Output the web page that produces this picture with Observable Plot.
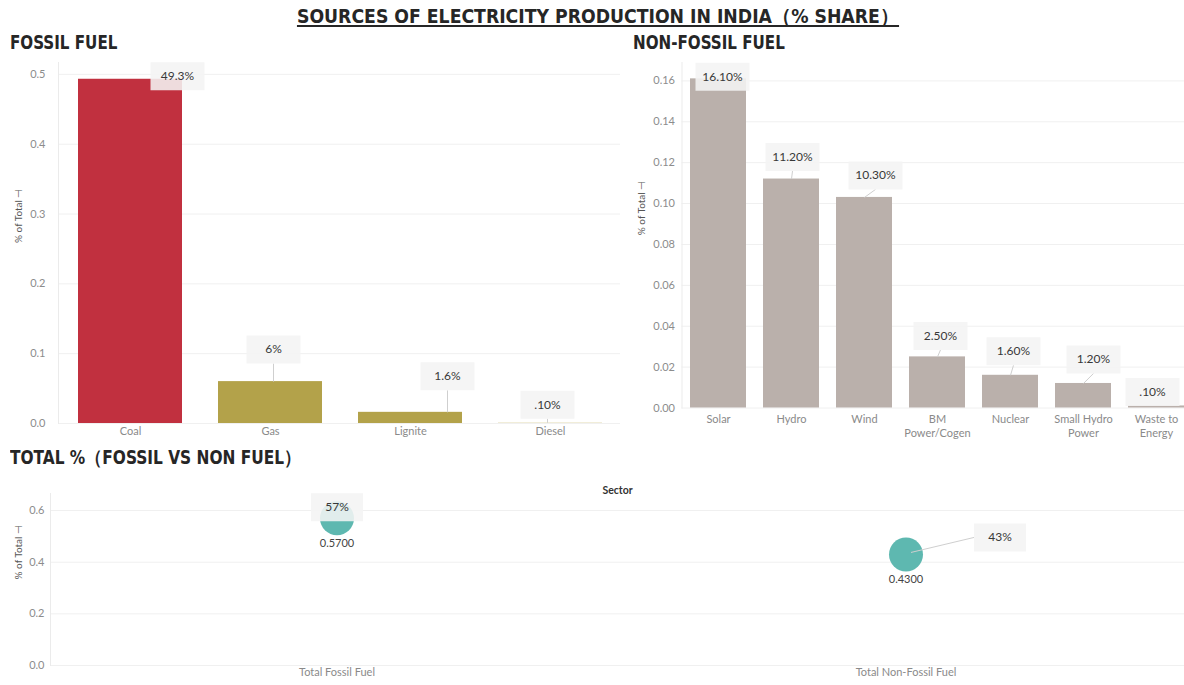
<!DOCTYPE html>
<html><head><meta charset="utf-8">
<script src="https://cdn.jsdelivr.net/npm/d3@7"></script>
<script src="https://cdn.jsdelivr.net/npm/@observablehq/plot@0.6"></script>
<style>
html,body{margin:0;padding:0;background:#fff;overflow:hidden;width:1184px;height:685px;}
#wrap{position:relative;width:1184px;height:685px;font-family:Lato,"Open Sans",sans-serif;}
.h{position:absolute;font-family:"Liberation Sans Narrow","DejaVu Sans Condensed",sans-serif;font-weight:bold;color:#262626;white-space:nowrap;line-height:1;transform-origin:0 50%;}
#title{left:0;width:1196px;text-align:center;top:6px;font-size:20px;text-decoration:underline;text-underline-offset:2px;transform:scaleX(0.96);transform-origin:50% 50%;}
#hFossil{left:10px;top:33px;font-size:19px;transform:scaleX(0.885);}
#hNon{left:633px;top:33px;font-size:19px;transform:scaleX(0.885);}
#hTotal{left:10px;top:448px;font-size:19px;transform:scaleX(0.9);}
.panel{position:absolute;}
.panel svg{overflow:hidden;}
</style></head>
<body><div id="wrap">
<div class="h" id="title">SOURCES OF ELECTRICITY PRODUCTION IN INDIA（% SHARE）</div>
<div class="h" id="hFossil">FOSSIL FUEL</div>
<div class="h" id="hNon">NON-FOSSIL FUEL</div>
<div class="h" id="hTotal">TOTAL %（FOSSIL VS NON FUEL）</div>
<div class="panel" id="pFossil" style="left:0;top:50px"></div>
<div class="panel" id="pNon" style="left:620px;top:50px"></div>
<div class="panel" id="pTotal" style="left:0;top:478px"></div>
</div>
<script>
// ---------- data ----------
const fossilCategories = ["Coal", "Gas", "Lignite", "Diesel"];
const fossilShare = [0.493, 0.06, 0.016, 0.001];
const fossilLabels = ["49.3%", "6%", "1.6%", ".10%"];
const fossilTicks = [0, 0.1, 0.2, 0.3, 0.4, 0.5];

const nonFossilCategories = ["Solar", "Hydro", "Wind", "BM Power/Cogen", "Nuclear", "Small Hydro Power", "Waste to Energy"];
const nonFossilTickLabels = ["Solar", "Hydro", "Wind", "BM\nPower/Cogen", "Nuclear", "Small Hydro\nPower", "Waste to\nEnergy"];
const nonFossilShare = [0.161, 0.112, 0.103, 0.025, 0.016, 0.012, 0.001];
const nonFossilLabels = ["16.10%", "11.20%", "10.30%", "2.50%", "1.60%", "1.20%", ".10%"];
const nonFossilTicks = [0, 0.02, 0.04, 0.06, 0.08, 0.10, 0.12, 0.14, 0.16];

const sectorCategories = ["Total Fossil Fuel", "Total Non-Fossil Fuel"];
const sectorShare = [0.57, 0.43];
const sectorLabels = ["57%", "43%"];
const sectorValueText = ["0.5700", "0.4300"];
const sectorTicks = [0, 0.2, 0.4, 0.6];

const yTitle = "% of Total \u22A3";

// ---------- style ----------
const fossilColors = ["#c1303f", "#b3a24a", "#b3a24a", "#ebe6c9"];
const nonFossilColor = "#bab0ab";
const sectorColor = "#5eb8b0";
const gridColor = "#f0f0f0";
const tickColor = "#8c8c8c";
const catColor = "#8a8a8a";
const labelColor = "#383838";
// annotation nudges (pixels) for the label callouts
const fossilNudge = [[47, -3], [3, -32], [37, -36], [-3, -18]];
const nonFossilNudge = [[4, -2], [1, -22], [11, -22], [3, -21], [3, -24], [10, -24], [-4, -14]];
const sectorNudge = [[0, -11], [94, -17]];

const baseStyle = {fontFamily: "Lato, 'Open Sans', sans-serif", fontSize: "11px", color: "#333", background: "transparent", overflow: "hidden"};

function boxSymbol(w, h) { return {draw(ctx) { ctx.rect(-w / 2, -h / 2, w, h); }}; }
function segSymbol(x1, y1, x2, y2) { return {draw(ctx) { ctx.moveTo(x1, y1); ctx.lineTo(x2, y2); }}; }

function callouts(rows, nudges, {boxW = 54, boxH = 28, barW = 50, side = false, fromCenter = false} = {}) {
  const marks = [];
  rows.forEach((r, i) => {
    const [ndx, ndy] = nudges[i];
    const d = [r];
    const hw = boxW / 2, hh = boxH / 2;
    let seg = null;
    if (side && Math.abs(ndx) > hw) seg = [5, -2, ndx - Math.sign(ndx) * hw, ndy];
    else if (ndy + hh < -2) {
      const sx = fromCenter ? 0 : Math.max(-barW / 2 + 3, Math.min(barW / 2 - 3, ndx));
      seg = [sx, 0, ndx, ndy + hh];
    }
    if (seg) marks.push(Plot.dot(d, {x: "c", y: "v", symbol: segSymbol(...seg), fill: "none", stroke: "#cfcfcf", strokeWidth: 1}));
    marks.push(Plot.dot(d, {x: "c", y: "v", symbol: boxSymbol(boxW, boxH), fill: "#f4f4f4", fillOpacity: 0.88, stroke: "none", dx: ndx, dy: ndy}));
    marks.push(Plot.text(d, {x: "c", y: "v", text: "t", dx: ndx, dy: ndy, fill: labelColor, fontSize: 12}));
  });
  return marks;
}

function yAxisMarks(ticks, fmt, dx, labelDx) {
  return [
    Plot.ruleY(ticks, {y: d => d, stroke: gridColor}),
    Plot.frame({anchor: "left", stroke: "#ebebeb"}),
    Plot.text(ticks, {y: d => d, text: d => d3.format(fmt)(d), frameAnchor: "left", textAnchor: "end", dx: dx, fill: tickColor, fontSize: 11}),
    Plot.text([yTitle], {frameAnchor: "left", dx: labelDx, rotate: -90, fill: "#555", fontSize: 10})
  ];
}

// ---------- fossil ----------
const fossilRows = fossilCategories.map((c, i) => ({c, v: fossilShare[i], t: fossilLabels[i]}));
document.getElementById("pFossil").append(Plot.plot({
  width: 620, height: 393, marginLeft: 58, marginRight: 0, marginTop: 12, marginBottom: 20,
  style: baseStyle,
  x: {type: "band", domain: fossilCategories, range: [58, 622], paddingInner: 0.255, paddingOuter: 0.128, axis: null},
  y: {domain: [0, 0.517], axis: null},
  color: {domain: fossilCategories, range: fossilColors},
  marks: [
    ...yAxisMarks(fossilTicks, ".1f", -13, -40),
    Plot.barY(fossilRows, {x: "c", y: "v", fill: "c"}),
    Plot.text(fossilCategories, {x: d => d, text: d => d, frameAnchor: "bottom", dy: 11, fill: catColor, fontSize: 11}),
    ...callouts(fossilRows, fossilNudge, {boxW: 54, barW: 105})
  ]
}));

// ---------- non-fossil ----------
const nonRows = nonFossilCategories.map((c, i) => ({c, v: nonFossilShare[i], t: nonFossilLabels[i]}));
document.getElementById("pNon").append(Plot.plot({
  width: 564, height: 400, marginLeft: 61.5, marginRight: 0, marginTop: 12, marginBottom: 42.5,
  style: baseStyle,
  x: {type: "band", domain: nonFossilCategories, range: [61.5, 573.2], paddingInner: 0.234, paddingOuter: 0.117, axis: null},
  y: {domain: [0, 0.169], axis: null},
  marks: [
    ...yAxisMarks(nonFossilTicks, ".2f", -7, -40),
    Plot.barY(nonRows, {x: "c", y: "v", fill: nonFossilColor}),
    Plot.text(nonFossilCategories, {x: d => d, text: (d, i) => nonFossilTickLabels[i], frameAnchor: "bottom", lineAnchor: "top", dy: 4, lineHeight: 1.35, fill: catColor, fontSize: 11}),
    ...callouts(nonRows, nonFossilNudge, {boxW: 54, barW: 56, fromCenter: true})
  ]
}));

// ---------- total ----------
const sectorRows = sectorCategories.map((c, i) => ({c, v: sectorShare[i], t: sectorLabels[i], s: sectorValueText[i]}));
document.getElementById("pTotal").append(Plot.plot({
  width: 1184, height: 207, marginLeft: 50, marginRight: 0, marginTop: 15, marginBottom: 20,
  style: baseStyle,
  x: {type: "band", domain: sectorCategories, range: [52, 1190], padding: 0, axis: null},
  y: {domain: [0, 0.666], axis: null},
  marks: [
    ...yAxisMarks(sectorTicks, ".1f", -6, -32),
    Plot.text(["Sector"], {frameAnchor: "top", dy: -7, fontWeight: "bold", fill: "#333", fontSize: 10.5}),
    Plot.dot(sectorRows, {x: "c", y: "v", r: 17, fill: sectorColor, stroke: "none"}),
    Plot.text(sectorRows, {x: "c", y: "v", text: "s", dy: 25, fill: "#444", fontSize: 11}),
    ...callouts(sectorRows, sectorNudge, {boxW: 52, barW: 10, side: true}),
    Plot.text(sectorCategories, {x: d => d, text: d => d, frameAnchor: "bottom", dy: 10, fill: catColor, fontSize: 11})
  ]
}));
</script>
</body></html>
